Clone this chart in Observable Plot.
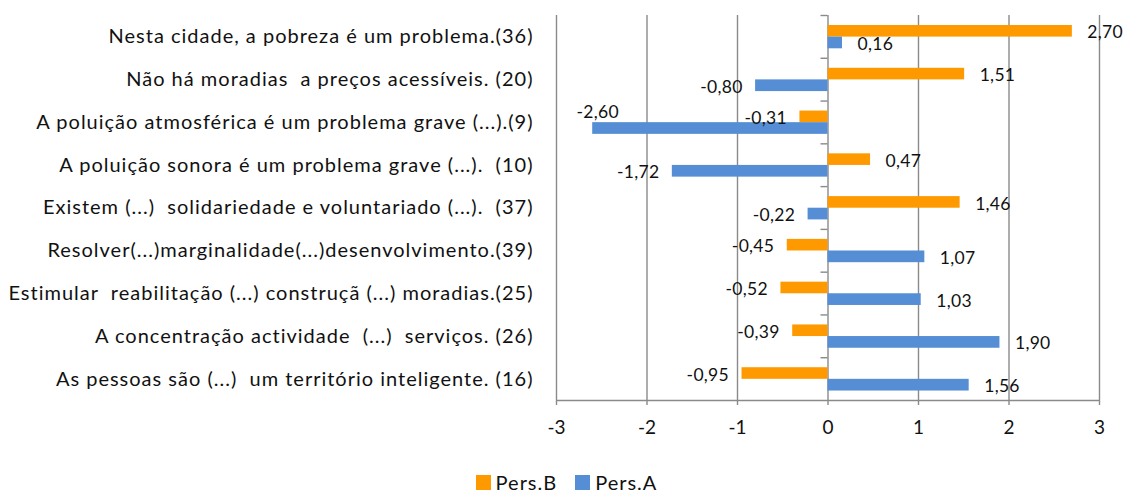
<!DOCTYPE html>
<html><head><meta charset="utf-8">
<script src="https://cdn.jsdelivr.net/npm/d3@7"></script>
<script src="https://cdn.jsdelivr.net/npm/@observablehq/plot@0.6"></script>
<style>
body{margin:0;background:#fff;font-family:Lato,"Open Sans",sans-serif;overflow:hidden}
#legend{display:flex;justify-content:center;align-items:center;height:20px;margin-top:10px;font-size:20px;letter-spacing:1px;color:#111;padding-left:2px}
.item{display:flex;align-items:center;margin:0 9px}
.sw{width:15px;height:15px;margin-right:5px;display:inline-block}
g[aria-label="y-axis tick label"] text{letter-spacing:1px}
g[aria-label="text"] text{letter-spacing:0.3px}
</style></head>
<body><div id="chart"></div><div id="legend"></div>
<script>
const categories = [
  "Nesta cidade, a pobreza é um problema.(36)",
  "Não há moradias  a preços acessíveis. (20)",
  "A poluição atmosférica é um problema grave (...).(9)",
  "A poluição sonora é um problema grave (...).  (10)",
  "Existem (...)  solidariedade e voluntariado (...).  (37)",
  "Resolver(...)marginalidade(...)desenvolvimento.(39)",
  "Estimular  reabilitação (...) construçã (...) moradias.(25)",
  "A concentração actividade  (...)  serviços. (26)",
  "As pessoas são (...)  um território inteligente. (16)"
];
const persB = [2.70, 1.51, -0.31, 0.47, 1.46, -0.45, -0.52, -0.39, -0.95];
const persA = [0.16, -0.80, -2.60, -1.72, -0.22, 1.07, 1.03, 1.90, 1.56];
const seriesNames = ["Pers.B", "Pers.A"];
const seriesColors = ["#FF9900", "#558ED5"];
const xTicks = [-3, -2, -1, 0, 1, 2, 3];

const W = 1131, H = 462, mL = 556, mR = 32, mT = 15, mB = 62;
const band = (H - mT - mB) / categories.length;
const pxPerUnit = (W - mL - mR) / 6;
const grid = "#8a8a8a";
const fmt = v => v.toFixed(2).replace(".", ",");

const dataB = categories.map((c, i) => ({category: c, value: persB[i]}));
const dataA = categories.map((c, i) => ({category: c, value: persA[i]}));

const isCrowded = d => d.value < -2;
const lab = {x: "value", y: "category", text: d => fmt(d.value), fontSize: 17.5, fill: "#111"};

const chart = Plot.plot({
  width: W, height: H,
  marginLeft: mL, marginRight: mR, marginTop: mT, marginBottom: mB,
  style: {fontFamily: "Lato, 'Open Sans', sans-serif", background: "#fff", color: "#111"},
  x: {domain: [-3, 3], label: null},
  y: {domain: categories, padding: 0, round: false, label: null},
  marks: [
    Plot.ruleX(xTicks, {stroke: grid, strokeWidth: 1.4}),
    Plot.ruleY([categories[categories.length - 1]], {y: d => d, dy: band / 2, x1: -3, x2: 3, stroke: grid, strokeWidth: 1.4}),
    Plot.ruleY(categories, {y: d => d, dy: -band / 2, x1: -7 / pxPerUnit, x2: 0, stroke: grid, strokeWidth: 1.4}),
    Plot.barX(dataB, {x: "value", y: "category", fill: seriesColors[0], insetTop: 10, insetBottom: band - 21.6}),
    Plot.barX(dataA, {x: "value", y: "category", fill: seriesColors[1], insetTop: 21.6, insetBottom: band - 33.3}),
    // Pers.B labels
    Plot.text(dataB.filter(d => d.value >= 0), {...lab, textAnchor: "start", dx: 15, dy: -4}),
    Plot.text(dataB.filter(d => d.value < 0), {...lab, textAnchor: "end", dx: -13, dy: -4}),
    // Pers.A labels
    Plot.text(dataA.filter(d => d.value >= 0), {...lab, textAnchor: "start", dx: 15, dy: 7.5}),
    Plot.text(dataA.filter(d => d.value < 0 && !isCrowded(d)), {...lab, textAnchor: "end", dx: -13, dy: 7.5}),
    Plot.text(dataA.filter(isCrowded), {...lab, textAnchor: "middle", dx: 5, dy: -10}),
    Plot.axisY({tickSize: 0, tickPadding: 23, fontSize: 20, label: null}),
    Plot.axisX({ticks: xTicks, tickFormat: d => String(d), tickSize: 5, tickPadding: 15, fontSize: 19, stroke: grid, strokeWidth: 1.4, label: null})
  ]
});
document.getElementById("chart").appendChild(chart);

const lg = document.getElementById("legend");
seriesNames.forEach((n, i) => {
  const it = document.createElement("div");
  it.className = "item";
  it.innerHTML = `<span class="sw" style="background:${seriesColors[i]}"></span><span>${n}</span>`;
  lg.appendChild(it);
});
</script>
</body></html>
